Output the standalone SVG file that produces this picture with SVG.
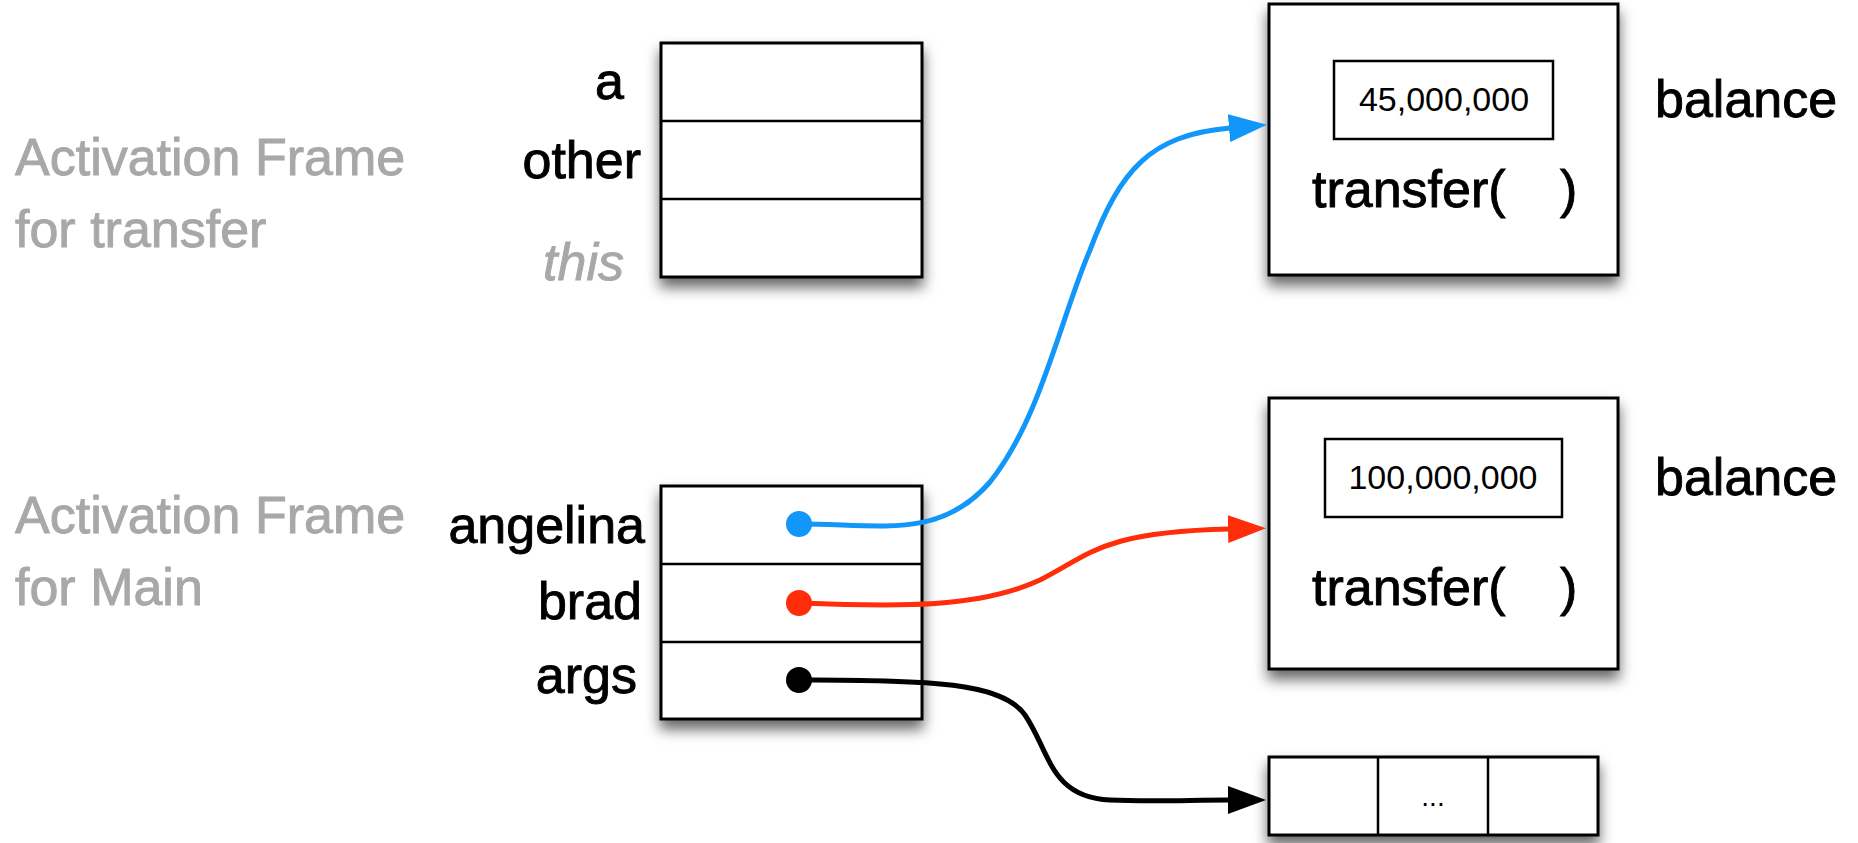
<svg xmlns="http://www.w3.org/2000/svg" width="1858" height="843" viewBox="0 0 1858 843">
<style>
.lbl{font-family:"Liberation Sans",Arial,sans-serif;font-size:52px;fill:#000;stroke:#000;stroke-width:0.9}
.gray{font-family:"Liberation Sans",Arial,sans-serif;font-size:52px;fill:#a8a8a8;stroke:#a8a8a8;stroke-width:0.9}
.num{font-family:"Liberation Sans",Arial,sans-serif;fill:#000;text-anchor:middle}
.box{fill:#fff;stroke:#000;stroke-width:3}
.div{stroke:#000;stroke-width:2.5;fill:none}
.conn{fill:none;stroke-width:5;stroke-linecap:round}
</style>
<defs>
<filter id="sh" x="-20%" y="-20%" width="140%" height="150%">
<feDropShadow dx="0" dy="9" stdDeviation="7" flood-color="#000" flood-opacity="0.6"/>
</filter>
<marker id="aBlue" markerUnits="userSpaceOnUse" viewBox="0 0 38 28" markerWidth="38" markerHeight="28" refX="1" refY="14" orient="auto"><path d="M0,0 L38,14 L0,28 z" fill="#1196f9"/></marker>
<marker id="aRed" markerUnits="userSpaceOnUse" viewBox="0 0 38 28" markerWidth="38" markerHeight="28" refX="1" refY="14" orient="auto"><path d="M0,0 L38,14 L0,28 z" fill="#ff2d0a"/></marker>
<marker id="aBlack" markerUnits="userSpaceOnUse" viewBox="0 0 38 28" markerWidth="38" markerHeight="28" refX="1" refY="14" orient="auto"><path d="M0,0 L38,14 L0,28 z" fill="#000"/></marker>
</defs>

<g id="label-transfer-frame">
<text class="gray" x="15" y="175">Activation Frame</text>
<text class="gray" x="15" y="247">for transfer</text>
</g>
<g id="label-main-frame">
<text class="gray" x="15" y="533">Activation Frame</text>
<text class="gray" x="15" y="605">for Main</text>
</g>

<g id="frame-transfer">
<rect class="box" x="661" y="43" width="261" height="234" filter="url(#sh)"/>
<line class="div" x1="661" y1="121" x2="922" y2="121"/>
<line class="div" x1="661" y1="199" x2="922" y2="199"/>
<text class="lbl" x="624" y="99" text-anchor="end">a</text>
<text class="lbl" x="641" y="178" text-anchor="end">other</text>
<text class="gray" x="624" y="280" text-anchor="end" font-style="italic">this</text>
</g>

<g id="frame-main">
<rect class="box" x="661" y="486" width="261" height="233" filter="url(#sh)"/>
<line class="div" x1="661" y1="564" x2="922" y2="564"/>
<line class="div" x1="661" y1="642" x2="922" y2="642"/>
<text class="lbl" x="645" y="543" text-anchor="end">angelina</text>
<text class="lbl" x="642" y="619" text-anchor="end">brad</text>
<text class="lbl" x="637" y="693" text-anchor="end">args</text>
</g>

<g id="object-angelina">
<rect class="box" x="1269" y="4" width="349" height="271" filter="url(#sh)"/>
<rect x="1334" y="61" width="219" height="78" fill="#fff" stroke="#000" stroke-width="2.5"/>
<text class="num" x="1444" y="111" font-size="34">45,000,000</text>
<text class="lbl" x="1312" y="207">transfer(</text>
<text class="lbl" x="1560" y="207">)</text>
<text class="lbl" x="1655" y="117">balance</text>
</g>

<g id="object-brad">
<rect class="box" x="1269" y="398" width="349" height="271" filter="url(#sh)"/>
<rect x="1325" y="439" width="237" height="78" fill="#fff" stroke="#000" stroke-width="2.5"/>
<text class="num" x="1443" y="489" font-size="34">100,000,000</text>
<text class="lbl" x="1312" y="605">transfer(</text>
<text class="lbl" x="1560" y="605">)</text>
<text class="lbl" x="1655" y="495">balance</text>
</g>

<g id="args-array">
<rect class="box" x="1269" y="757" width="329" height="78" filter="url(#sh)"/>
<line class="div" x1="1378" y1="757" x2="1378" y2="835"/>
<line class="div" x1="1488" y1="757" x2="1488" y2="835"/>
<text class="num" x="1433" y="806" font-size="28">...</text>
</g>

<g id="connectors">
<path class="conn" stroke="#1196f9" d="M799,524 C880,524 940,540 990,482 C1040,420 1060,320 1090,250 C1120,170 1150,135 1230,128" marker-end="url(#aBlue)"/>
<circle cx="799" cy="524" r="13" fill="#1196f9"/>
<path class="conn" stroke="#ff2d0a" d="M799,603 C900,607 980,608 1040,580 C1090,555 1100,532 1229,529" marker-end="url(#aRed)"/>
<circle cx="799" cy="603" r="13" fill="#ff2d0a"/>
<path class="conn" stroke="#000" d="M799,680 C920,681 1000,680 1025,715 C1050,752 1050,797 1110,800 C1150,802 1190,800 1229,800" marker-end="url(#aBlack)"/>
<circle cx="799" cy="680" r="13" fill="#000"/>
</g>
</svg>
